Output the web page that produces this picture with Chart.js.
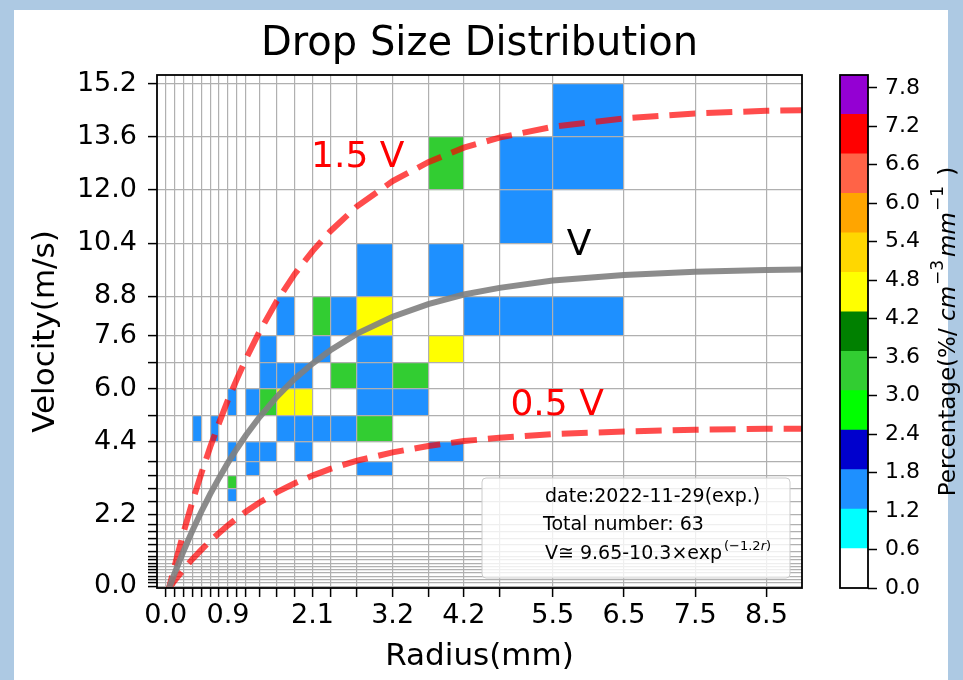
<!DOCTYPE html>
<html>
<head>
<meta charset="utf-8">
<title>Drop Size Distribution</title>
<script src="https://cdn.jsdelivr.net/npm/chart.js@4.4.0/dist/chart.umd.min.js"></script>
<style>
    html, body { margin: 0; padding: 0; background: #adc9e3; }
    #wrap { position: relative; width: 963px; height: 680px; }
    #wrap canvas { position: absolute; left: 0; top: 0; }
</style>
</head>
<body>
<div id="wrap">
    <canvas id="dsd" width="963" height="680"></canvas>
    <canvas id="cbar" width="963" height="680"></canvas>
</div>
<script>
// class centres (grid lines and cell edges)
const radius_centers = [0.062, 0.187, 0.312, 0.437, 0.562, 0.687, 0.812, 0.937, 1.062, 1.187,
    1.375, 1.625, 1.875, 2.125, 2.375, 2.75, 3.25, 3.75, 4.25, 4.75, 5.5, 6.5, 7.5, 8.5];
const radius_labels = ['0.0', '', '', '', '', '', '', '0.9', '', '', '', '', '', '2.1', '', '',
    '3.2', '', '4.2', '', '5.5', '6.5', '7.5', '8.5'];

const velocity_centers = [0.05, 0.15, 0.25, 0.35, 0.45, 0.55, 0.65, 0.75, 0.85, 0.95, 1.1, 1.3,
    1.5, 1.7, 1.9, 2.2, 2.6, 3.0, 3.4, 3.8, 4.4, 5.2, 6.0, 6.8, 7.6, 8.8, 10.4, 12.0, 13.6, 15.2];
const velocity_labels = ['0.0', '', '', '', '', '', '', '', '', '', '', '', '', '', '', '2.2', '',
    '', '', '', '4.4', '', '6.0', '', '7.6', '8.8', '10.4', '12.0', '13.6', '15.2'];

// drop counts per cell (radius bin index, velocity bin index)
const cell_col = [7, 7, 9, 15, 7, 9, 10, 12, 17, 3, 5, 11, 12, 13, 14, 15, 7, 9, 10, 11, 12, 15, 16,
    10, 11, 12, 14, 15, 16, 10, 13, 15, 17, 11, 13, 14, 15, 18, 19, 20, 15, 17, 19, 17, 19, 20, 20];
const cell_row = [16, 17, 18, 18, 19, 19, 19, 19, 19, 20, 20, 20, 20, 20, 20, 20, 21, 21, 21, 21, 21, 21, 21,
    22, 22, 22, 22, 22, 22, 23, 23, 23, 23, 24, 24, 24, 24, 24, 24, 24, 25, 25, 26, 27, 27, 27, 28];
const cell_count = [1, 2, 1, 1, 1, 1, 1, 1, 1, 1, 1, 1, 1, 1, 1, 2, 1, 1, 2, 3, 3, 1, 1,
    1, 1, 1, 2, 1, 2, 1, 1, 1, 3, 1, 2, 1, 3, 1, 1, 1, 1, 1, 1, 2, 1, 1, 1];
const total_number = 63;
const obs_date = '2022-11-29';

// fitted fall speed curves
const fit_radius = [0.062, 0.187, 0.312, 0.437, 0.562, 0.687, 0.812, 0.937, 1.062, 1.187, 1.375, 1.625,
    1.875, 2.125, 2.375, 2.75, 3.25, 3.75, 4.25, 4.75, 5.5, 6.5, 7.5, 8.5, 9.5];
const fit_v = [-0.27, 0.44, 1.11, 1.73, 2.30, 2.83, 3.32, 3.78, 4.20, 4.60, 5.14, 5.77,
    6.31, 6.77, 7.17, 7.67, 8.18, 8.56, 8.85, 9.05, 9.27, 9.44, 9.54, 9.59, 9.62];
const fit_v_high = [-0.40, 0.66, 1.67, 2.60, 3.45, 4.25, 4.98, 5.67, 6.30, 6.90, 7.71, 8.66,
    9.47, 10.16, 10.76, 11.51, 12.27, 12.84, 13.28, 13.58, 13.91, 14.16, 14.31, 14.39, 14.43];
const fit_v_low = [-0.13, 0.22, 0.56, 0.87, 1.15, 1.42, 1.66, 1.89, 2.10, 2.30, 2.57, 2.89,
    3.16, 3.39, 3.59, 3.84, 4.09, 4.28, 4.43, 4.53, 4.64, 4.72, 4.77, 4.80, 4.81];

// colour bar
const cbar_levels = [0, 0.615, 1.231, 1.846, 2.462, 3.077, 3.692, 4.308, 4.923, 5.538, 6.154, 6.769, 7.385, 8.0];
const cbar_colors = ['#ffffff', '#00ffff', '#1e90ff', '#0000cd', '#00ff00', '#32cd32', '#008000',
    '#ffff00', '#ffd700', '#ffa500', '#ff6347', '#ff0000', '#9400d3'];
const cbar_ticks = [0, 0.6, 1.2, 1.8, 2.4, 3.0, 3.6, 4.2, 4.8, 5.4, 6.0, 6.6, 7.2, 7.8];
const cbar_tick_labels = ['0.0', '0.6', '1.2', '1.8', '2.4', '3.0', '3.6', '4.2', '4.8', '5.4', '6.0', '6.6', '7.2', '7.8'];

const font_family = "'DejaVu Sans', sans-serif";

function colorFor(percent) {
    for (let k = 0; k < cbar_colors.length; k++) {
        if (percent < cbar_levels[k + 1])
            return cbar_colors[k];
    }
    return cbar_colors[cbar_colors.length - 1];
}

function toPoints(xs, ys) {
    return xs.map((x, i) => ({x: x, y: ys[i]}));
}

const panel_plugin = {
    id: 'panel',
    beforeDraw(chart) {
        let ctx = chart.ctx;
        ctx.save();
        ctx.fillStyle = '#adc9e3';
        ctx.fillRect(0, 0, chart.width, chart.height);
        ctx.fillStyle = '#ffffff';
        ctx.fillRect(14, 10, 934, 670);

        // cells go under the grid
        let xs = chart.scales.x;
        let ys = chart.scales.y;
        for (let k = 0; k < cell_count.length; k++) {
            let x0 = xs.getPixelForValue(radius_centers[cell_col[k]]);
            let x1 = xs.getPixelForValue(radius_centers[cell_col[k] + 1]);
            let y0 = ys.getPixelForValue(velocity_centers[cell_row[k]]);
            let y1 = ys.getPixelForValue(velocity_centers[cell_row[k] + 1]);
            ctx.fillStyle = colorFor(cell_count[k] / total_number * 100);
            ctx.fillRect(x0, y1, x1 - x0, y0 - y1);
        }
        ctx.restore();
    }
};

const overlay_plugin = {
    id: 'overlay',
    afterDraw(chart) {
        let ctx = chart.ctx;
        let area = chart.chartArea;
        let xs = chart.scales.x;
        let ys = chart.scales.y;
        ctx.save();
        ctx.strokeStyle = '#000';
        ctx.lineWidth = 1.8;
        ctx.strokeRect(area.left, area.top, area.right - area.left, area.bottom - area.top);

        // curve labels
        ctx.font = '36px ' + font_family;
        ctx.textAlign = 'center';
        ctx.textBaseline = 'middle';
        ctx.fillStyle = '#ff0000';
        ctx.fillText('1.5 V', xs.getPixelForValue(2.76), ys.getPixelForValue(12.98));
        ctx.fillText('0.5 V', xs.getPixelForValue(5.56), ys.getPixelForValue(5.50));
        ctx.fillStyle = '#000';
        ctx.fillText('V', xs.getPixelForValue(5.87), ys.getPixelForValue(10.32));

        // info box
        ctx.beginPath();
        ctx.roundRect(482, 478, 308, 100, 4);
        ctx.fillStyle = 'rgba(255,255,255,0.8)';
        ctx.fill();
        ctx.strokeStyle = '#cccccc';
        ctx.lineWidth = 1;
        ctx.stroke();

        ctx.fillStyle = '#000';
        ctx.textAlign = 'left';
        ctx.textBaseline = 'alphabetic';
        ctx.font = '19px ' + font_family;
        ctx.fillText('date:' + obs_date + '(exp.)', 545, 502);
        ctx.fillText('Total number: ' + total_number, 543, 529.5);
        let base = 'V\u2245 9.65-10.3\u00d7exp';
        ctx.fillText(base, 545, 559);
        let w = ctx.measureText(base).width;
        ctx.font = '13px ' + font_family;
        ctx.fillText('(\u22121.2', 545 + w + 2, 550);
        let w2 = ctx.measureText('(\u22121.2').width;
        ctx.font = 'italic 13px ' + font_family;
        ctx.fillText('r', 545 + w + 2 + w2, 550);
        let w3 = ctx.measureText('r').width;
        ctx.font = '13px ' + font_family;
        ctx.fillText(')', 545 + w + 2 + w2 + w3, 550);
        ctx.restore();
    }
};

const cbar_plugin = {
    id: 'cbarFrame',
    afterDraw(chart) {
        let ctx = chart.ctx;
        let area = chart.chartArea;
        ctx.save();
        ctx.strokeStyle = '#000';
        ctx.lineWidth = 1.8;
        ctx.strokeRect(area.left, area.top, area.right - area.left, area.bottom - area.top);

        // label reads bottom to top: [font, text, raise, gap after]
        let parts = [
            ['23px ' + font_family, 'Percentage(%/ ', 0, 0],
            ['italic 23px ' + font_family, 'cm', 0, 1],
            ['17px ' + font_family, '\u22123', -10, 3],
            ['italic 23px ' + font_family, 'mm', 0, 1],
            ['17px ' + font_family, '\u22121', -10, 3],
            ['23px ' + font_family, ' )', 0, 0]
        ];
        let total = 0;
        for (let p of parts) {
            ctx.font = p[0];
            total += ctx.measureText(p[1]).width + p[3];
        }
        ctx.translate(949, (area.top + area.bottom) / 2);
        ctx.rotate(-Math.PI / 2);
        ctx.fillStyle = '#000';
        ctx.textBaseline = 'middle';
        let pos = -total / 2;
        for (let p of parts) {
            ctx.font = p[0];
            ctx.fillText(p[1], pos, p[2]);
            pos += ctx.measureText(p[1]).width + p[3];
        }
        ctx.restore();
    }
};

function setMainChart() {
    let ctx = document.getElementById('dsd').getContext('2d');

    return new Chart(ctx, {
        type: 'line',
        data: {
            datasets: [{
                label: 'V',
                data: toPoints(fit_radius, fit_v),
                borderColor: 'rgba(128,128,128,0.9)',
                borderWidth: 6,
                pointRadius: 0
            }, {
                label: '1.5 V',
                data: toPoints(fit_radius, fit_v_high),
                borderColor: 'rgba(255,0,0,0.7)',
                borderWidth: 6,
                borderDash: [26, 11],
                pointRadius: 0
            }, {
                label: '0.5 V',
                data: toPoints(fit_radius, fit_v_low),
                borderColor: 'rgba(255,0,0,0.7)',
                borderWidth: 6,
                borderDash: [26, 11],
                pointRadius: 0
            }]
        },
        options: {
            responsive: false,
            animation: false,
            events: [],
            layout: {padding: {left: 0, right: 161, top: 0, bottom: 0}},
            plugins: {
                legend: {display: false},
                tooltip: {enabled: false},
                title: {
                    display: true,
                    text: 'Drop Size Distribution',
                    fullSize: false,
                    color: '#000',
                    font: {family: font_family, size: 40, weight: 'normal'},
                    padding: {top: 21, bottom: 6}
                }
            },
            scales: {
                x: {
                    type: 'linear',
                    min: -0.06,
                    max: 9.0,
                    afterFit(scale) { scale.height = 92; },
                    afterBuildTicks(scale) { scale.ticks = radius_centers.map(v => ({value: v})); },
                    ticks: {
                        autoSkip: false,
                        maxRotation: 0,
                        padding: 3,
                        color: '#000',
                        font: {family: font_family, size: 27},
                        callback: (value, index) => radius_labels[index]
                    },
                    grid: {color: '#b0b0b0', lineWidth: 1.2, tickColor: '#000', tickLength: 9, tickWidth: 1.5},
                    border: {display: false},
                    title: {
                        display: true,
                        text: 'Radius(mm)',
                        color: '#000',
                        font: {family: font_family, size: 31},
                        padding: {top: 0, bottom: 4}
                    }
                },
                y: {
                    type: 'linear',
                    min: 0,
                    max: 15.47,
                    afterFit(scale) { scale.width = 157; },
                    afterBuildTicks(scale) { scale.ticks = velocity_centers.map(v => ({value: v})); },
                    ticks: {
                        autoSkip: false,
                        padding: 11,
                        color: '#000',
                        font: {family: font_family, size: 27},
                        callback: (value, index) => velocity_labels[index]
                    },
                    grid: {color: '#b0b0b0', lineWidth: 1.2, tickColor: '#000', tickLength: 9, tickWidth: 1.5},
                    border: {display: false},
                    title: {
                        display: true,
                        text: 'Velocity(m/s)',
                        color: '#000',
                        font: {family: font_family, size: 31},
                        padding: {top: 27, bottom: 0}
                    }
                }
            }
        },
        plugins: [panel_plugin, overlay_plugin]
    });
}

function setColorBar() {
    let ctx = document.getElementById('cbar').getContext('2d');

    return new Chart(ctx, {
        type: 'bar',
        data: {
            labels: [''],
            datasets: cbar_colors.map((c, i) => ({
                data: [[cbar_levels[i], cbar_levels[i + 1]]],
                backgroundColor: c,
                borderWidth: 0,
                grouped: false,
                barPercentage: 1,
                categoryPercentage: 1
            }))
        },
        options: {
            responsive: false,
            animation: false,
            events: [],
            layout: {padding: {left: 840, right: 35, top: 75, bottom: 92}},
            plugins: {
                legend: {display: false},
                tooltip: {enabled: false}
            },
            scales: {
                x: {display: false},
                y: {
                    position: 'right',
                    min: 0,
                    max: 8,
                    afterFit(scale) { scale.width = 60; },
                    afterBuildTicks(scale) { scale.ticks = cbar_ticks.map(v => ({value: v})); },
                    ticks: {
                        autoSkip: false,
                        padding: 8,
                        color: '#000',
                        font: {family: font_family, size: 22},
                        callback: (value, index) => cbar_tick_labels[index]
                    },
                    grid: {drawOnChartArea: false, tickColor: '#000', tickLength: 9, tickWidth: 1.5},
                    border: {display: false}
                }
            }
        },
        plugins: [cbar_plugin]
    });
}

setMainChart();
setColorBar();
</script>
</body>
</html>
